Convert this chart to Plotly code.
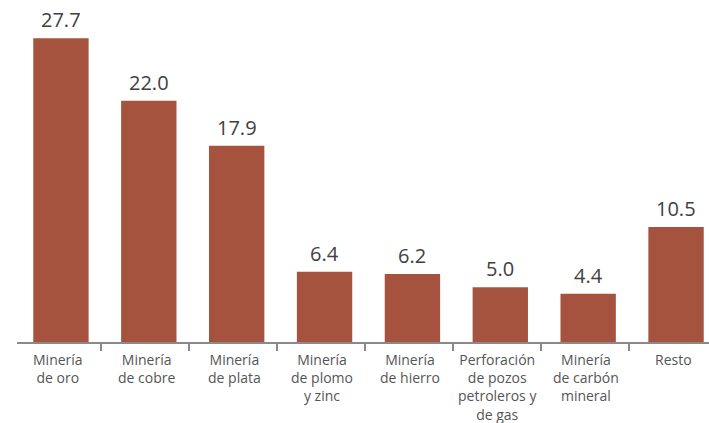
import plotly.graph_objects as go

categories = ["Minería<br>de oro", "Minería<br>de cobre", "Minería<br>de plata",
              "Minería<br>de plomo<br>y zinc", "Minería<br>de hierro",
              "Perforación<br>de pozos<br>petroleros y<br>de gas",
              "Minería<br>de carbón<br>mineral", "Resto"]
values = [27.7, 22.0, 17.9, 6.4, 6.2, 5.0, 4.4, 10.5]
value_labels = ["27.7", "22.0", "17.9", "6.4", "6.2", "5.0", "4.4", "10.5"]

bar_color = "#A5533F"
xpos = list(range(len(values)))

fig = go.Figure(go.Bar(x=xpos, y=values, marker=dict(color=bar_color, line=dict(width=0)),
                       width=0.63, hoverinfo="skip"))

annotations = []
for x, v, t in zip(xpos, values, value_labels):
    annotations.append(dict(x=x, y=v, xref="x", yref="y", text=t, showarrow=False,
                            yanchor="bottom", yshift=3,
                            font=dict(family="Open Sans", size=20, color="#404040")))
for x, c in zip(xpos, categories):
    annotations.append(dict(x=x - 0.03, y=0, xref="x", yref="y", text=c, showarrow=False,
                            yanchor="top", yshift=-6, align="center",
                            font=dict(family="Open Sans", size=14, color="#555555")))

fig.update_layout(
    width=709, height=423,
    margin=dict(l=17, r=0, t=0, b=81),
    plot_bgcolor="white", paper_bgcolor="white",
    showlegend=False,
    annotations=annotations,
    xaxis=dict(range=[-0.5, 7.375], tickvals=[i + 0.46 for i in range(7)],
               ticktext=[""] * 7, ticks="outside", ticklen=7, tickwidth=2,
               tickcolor="#8a8a8a", showline=True, linecolor="#8a8a8a", linewidth=2,
               showgrid=False, zeroline=False, fixedrange=True),
    yaxis=dict(range=[0, 31.2], visible=False, showgrid=False, zeroline=False,
               fixedrange=True),
)

fig.write_html("out.html", config={"displayModeBar": False},
               post_script="document.body.style.margin='0';document.body.style.overflow='hidden';")
